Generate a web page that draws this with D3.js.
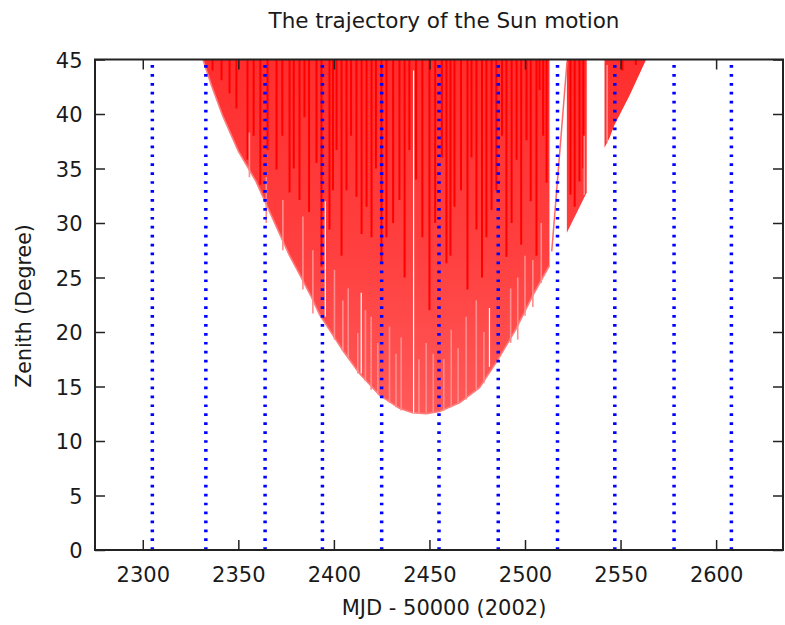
<!DOCTYPE html>
<html>
<head>
<meta charset="utf-8">
<script src="https://cdn.jsdelivr.net/npm/d3@7"></script>
<style>
  html, body { margin: 0; padding: 0; background: #fff; }
  svg { display: block; }
  text { font-family: "DejaVu Sans", sans-serif; fill: #1a1a1a; }
</style>
</head>
<body>
<svg id="chart" width="785" height="625"></svg>
<script>
// ---------------- data ----------------
const title = "The trajectory of the Sun motion";
const xLabel = "MJD - 50000 (2002)";
const yLabel = "Zenith (Degree)";
const xDomain = [2275, 2635];
const yDomain = [0, 45];
const xTicks = [2300, 2350, 2400, 2450, 2500, 2550, 2600];
const yTicks = [0, 5, 10, 15, 20, 25, 30, 35, 40, 45];
// month boundaries (blue dotted lines)
const monthLines = [2305, 2333, 2364, 2394, 2425, 2455, 2486, 2517, 2547, 2578, 2608];
// lower envelope (minimum zenith) of the main observing period [MJD, zenith]
const mainEnvelope = [
  [2331.5, 45.0], [2336, 42.6], [2341.9, 39.8], [2350, 36.6], [2359.3, 33.8],
  [2368, 30.4], [2376.8, 27.0], [2382, 25.3], [2388, 23.3], [2392.5, 21.6],
  [2397.7, 20.2], [2404.7, 18.3], [2413.4, 16.2], [2423.9, 14.2], [2434.3, 13.0],
  [2441.1, 12.6], [2448.3, 12.5], [2455.3, 12.7], [2465.7, 13.5], [2476.2, 14.9],
  [2485.6, 17.4], [2495.4, 20.3], [2503.9, 23.3], [2512.8, 26.1]
];
const block2Envelope = [[2521.9, 29.1], [2532.3, 32.8]];
const block3Envelope = [[2541.6, 36.9], [2544.2, 37.8], [2546.8, 39.0], [2554.7, 41.7], [2563.4, 45.0]];
const thinTrack = [[2514, 27.4], [2522, 44.8]];
// saturated (dense) streaks: [MJD, lowest zenith reached]
const darkStreaks = [
  [2336.5, 44.0], [2341.2, 43.1], [2345.4, 41.9], [2349.0, 40.5], [2354.8, 35.8],
  [2358.0, 38.0], [2361.5, 33.5], [2365.3, 36.7], [2370.0, 34.9], [2373.0, 38.0],
  [2376.8, 32.8], [2379.0, 35.0], [2382.0, 32.1], [2384.6, 39.7], [2387.0, 31.0],
  [2390.9, 35.5], [2393.5, 26.0], [2397.7, 29.4], [2399.5, 33.0], [2401.4, 36.7],
  [2404.0, 27.0], [2406.6, 33.0], [2409.0, 38.0], [2411.8, 32.4], [2414.5, 29.0],
  [2417.1, 31.5], [2419.7, 28.7], [2422.0, 35.0], [2424.9, 26.3], [2427.5, 28.7],
  [2431.0, 30.0], [2434.3, 32.1], [2437.0, 25.0], [2439.5, 36.7], [2443.0, 34.0],
  [2446.3, 28.7], [2450.0, 22.0], [2453.0, 30.0], [2456.5, 36.0], [2458.9, 26.3],
  [2461.0, 27.0], [2463.1, 31.5], [2466.5, 33.0], [2469.9, 23.9], [2472.0, 36.0],
  [2474.6, 29.4], [2477.5, 25.0], [2479.8, 28.7], [2482.5, 31.2], [2485.0, 33.0],
  [2488.0, 38.0], [2490.3, 26.9], [2493.0, 30.0], [2495.6, 35.8], [2498.0, 28.0],
  [2500.8, 37.6], [2503.0, 32.0], [2506.0, 27.0], [2507.6, 42.2], [2509.5, 38.0],
  [2511.3, 33.7], [2523.8, 32.6], [2526.0, 31.5], [2528.5, 33.8], [2530.5, 35.0],
  [2551.0, 44.0], [2558.0, 44.5]
];
// sparse (light) streaks: [MJD, zenith top, zenith bottom]
const lightStreaks = [
  [2355.8, 38.3, 34.2], [2364.6, 34.2, 30.0], [2373.3, 32.1, 27.5], [2383.8, 30.6, 23.9],
  [2389.0, 27.5, 21.7], [2400.3, 25.7, 19.3], [2404.7, 22.9, 18.3], [2407.5, 24.0, 17.6],
  [2412.5, 19.9, 16.2], [2416.5, 22.0, 15.5], [2419.5, 21.4, 14.7], [2423.0, 19.0, 14.3],
  [2429.1, 20.5, 13.5], [2432.5, 18.0, 13.1], [2435.2, 19.5, 12.8], [2444.5, 17.5, 12.5],
  [2448.3, 19.0, 12.6], [2452.0, 18.0, 12.6], [2457.5, 17.5, 12.8], [2461.4, 20.2, 13.1],
  [2465.0, 18.5, 13.5], [2469.2, 21.4, 13.8], [2474.5, 22.9, 14.7], [2478.5, 20.0, 15.3],
  [2492.5, 24.0, 19.0], [2496.2, 25.0, 19.3], [2500.0, 27.0, 21.5], [2504.1, 26.6, 22.3],
  [2508.5, 30.0, 24.5], [2543.0, 44.5, 37.4], [2531.0, 38.0, 32.6]
];
// days without data: [MJD, zenith top, zenith bottom]
const gaps = [[2395.5, 32.0, 21.4], [2441.7, 44.0, 12.6], [2481.4, 22.2, 16.8], [2414.3, 23.6, 16.2]];

// ---------------- layout ----------------
const svg = d3.select("#chart");
const L = 95, R = 783, T = 59.5, B = 550;
const x = d3.scaleLinear().domain(xDomain).range([L, R]);
const y = d3.scaleLinear().domain(yDomain).range([B, T]);

const defs = svg.append("defs");
defs.append("clipPath").attr("id", "plotclip")
  .append("rect").attr("x", L).attr("y", T).attr("width", R - L).attr("height", B - T);
const grad = defs.append("linearGradient").attr("id", "redfill")
  .attr("gradientUnits", "userSpaceOnUse")
  .attr("x1", 0).attr("x2", 0).attr("y1", y(45)).attr("y2", y(12));
grad.append("stop").attr("offset", 0).attr("stop-color", "#ff2e2e");
grad.append("stop").attr("offset", 0.55).attr("stop-color", "#ff4040");
grad.append("stop").attr("offset", 1).attr("stop-color", "#ff5a5a");

const plot = svg.append("g").attr("clip-path", "url(#plotclip)");

const area = d3.area().x(d => x(d[0])).y0(y(45)).y1(d => y(d[1]));
const line = d3.line().x(d => x(d[0])).y(d => y(d[1]));

[mainEnvelope, block2Envelope, block3Envelope].forEach(env => {
  plot.append("path").attr("d", area(env)).attr("fill", "url(#redfill)");
});
plot.append("path").attr("d", line(mainEnvelope)).attr("fill", "none")
  .attr("stroke", "#ff7b7b").attr("stroke-width", 1.6);
plot.append("path").attr("d", line(thinTrack)).attr("fill", "none")
  .attr("stroke", "#ff6a6a").attr("stroke-width", 1.5);

plot.selectAll("line.dark").data(darkStreaks).join("line").attr("class", "dark")
  .attr("x1", d => x(d[0])).attr("x2", d => x(d[0]))
  .attr("y1", y(45)).attr("y2", d => y(d[1]))
  .attr("stroke", "#ff0000").attr("stroke-width", 2);
plot.selectAll("line.light").data(lightStreaks).join("line").attr("class", "light")
  .attr("x1", d => x(d[0])).attr("x2", d => x(d[0]))
  .attr("y1", d => y(d[1])).attr("y2", d => y(d[2]))
  .attr("stroke", "#ff8c8c").attr("stroke-width", 1.6);
plot.selectAll("line.gap").data(gaps).join("line").attr("class", "gap")
  .attr("x1", d => x(d[0])).attr("x2", d => x(d[0]))
  .attr("y1", d => y(d[1])).attr("y2", d => y(d[2]))
  .attr("stroke", "#ffffff").attr("stroke-width", 1.2);

// blue dotted month lines
plot.selectAll("line.month").data(monthLines).join("line").attr("class", "month")
  .attr("x1", d => x(d)).attr("x2", d => x(d))
  .attr("y1", y(0)).attr("y2", y(45))
  .attr("stroke", "#0000ff").attr("stroke-width", 3.5)
  .attr("stroke-dasharray", "2.7,6.23");

// ---------------- axes & frame ----------------
const fs = 21;
const axB = d3.axisBottom(x).tickValues(xTicks).tickFormat(d3.format("d"))
  .tickSizeInner(-10).tickSizeOuter(0).tickPadding(17);
const axT = d3.axisTop(x).tickValues(xTicks).tickSizeInner(-10).tickSizeOuter(0).tickFormat("");
const axLft = d3.axisLeft(y).tickValues(yTicks).tickFormat(d3.format("d"))
  .tickSizeInner(-10).tickSizeOuter(0).tickPadding(13);
const axRt = d3.axisRight(y).tickValues(yTicks).tickSizeInner(-10).tickSizeOuter(0).tickFormat("");

function style(g) {
  g.select(".domain").remove();
  g.selectAll(".tick line").attr("stroke", "#222").attr("stroke-width", 1.5);
  g.selectAll(".tick text").attr("font-size", fs).attr("fill", "#1a1a1a")
    .style("font-family", '"DejaVu Sans", sans-serif');
}
svg.append("g").attr("transform", `translate(0,${B})`).call(axB).call(style)
  .selectAll(".tick text").attr("dy", null).attr("y", 32.3);
svg.append("g").attr("transform", `translate(0,${T})`).call(axT).call(style);
svg.append("g").attr("transform", `translate(${L},0)`).call(axLft).call(style)
  .selectAll(".tick text").attr("x", -12.5).attr("dy", "0.36em");
svg.append("g").attr("transform", `translate(${R},0)`).call(axRt).call(style);

svg.append("rect").attr("x", L).attr("y", T).attr("width", R - L).attr("height", B - T)
  .attr("fill", "none").attr("stroke", "#222").attr("stroke-width", 2);

// ---------------- texts ----------------
svg.append("text").attr("x", 444).attr("y", 28.3).attr("text-anchor", "middle")
  .attr("font-size", 21.5).text(title);
svg.append("text").attr("x", 444).attr("y", 615).attr("text-anchor", "middle")
  .attr("font-size", fs).text(xLabel);
svg.append("text").attr("transform", "translate(31,306) rotate(-90)")
  .attr("text-anchor", "middle").attr("font-size", 20.5).text(yLabel);
</script>
</body>
</html>
